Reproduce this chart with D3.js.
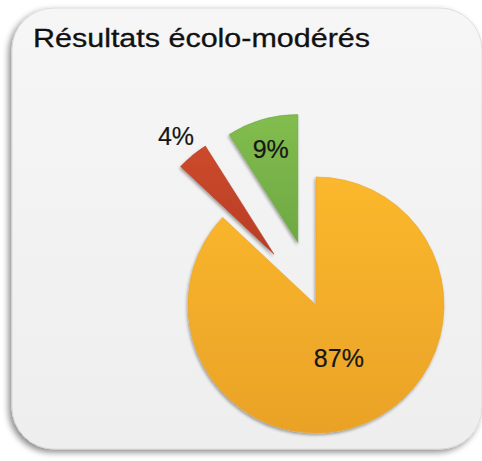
<!DOCTYPE html>
<meta charset="utf-8">
<script src="https://d3js.org/d3.v7.min.js"></script>
<style>
  body { margin: 0; background: #ffffff; }
</style>
<div id="my_dataviz"></div>
<script>

// data
var labels = ["87%", "4%", "9%"];
var values = [87, 4, 9];
var colorsTop = ["#fbb82d", "#cc4a2c", "#82bd4e"];
var colorsBottom = ["#eaa227", "#b83d25", "#6ea843"];
var explode = [0, 66, 65];          // px pulled out along bisector
var labelPos = [0.45, 1.2, 0.76];   // label distance as a fraction of the radius

var W = 482, H = 461;
var cx = 316, cy = 305, radius = 128;

var svg = d3.select("#my_dataviz")
  .append("svg")
    .attr("width", W)
    .attr("height", H);

var defs = svg.append("defs");

// card shadow
var f = defs.append("filter").attr("id", "cardShadow")
  .attr("x", "-10%").attr("y", "-10%").attr("width", "120%").attr("height", "120%");
f.append("feDropShadow").attr("dx", -3).attr("dy", 3).attr("stdDeviation", 3)
  .attr("flood-color", "#000").attr("flood-opacity", 0.45);

// slice shadow
var fs = defs.append("filter").attr("id", "sliceShadow")
  .attr("x", "-20%").attr("y", "-20%").attr("width", "140%").attr("height", "140%");
fs.append("feDropShadow").attr("dx", -1).attr("dy", 2).attr("stdDeviation", 1.5)
  .attr("flood-color", "#000").attr("flood-opacity", 0.35);

var cardGrad = defs.append("linearGradient").attr("id", "cardGrad")
  .attr("x1", 0).attr("y1", 0).attr("x2", 0).attr("y2", 1);
cardGrad.append("stop").attr("offset", "0%").attr("stop-color", "#f6f6f6");
cardGrad.append("stop").attr("offset", "100%").attr("stop-color", "#eeeeee");

values.forEach(function(v, i) {
  var g = defs.append("linearGradient").attr("id", "sg" + i)
    .attr("x1", 0).attr("y1", 0).attr("x2", 0).attr("y2", 1);
  g.append("stop").attr("offset", "0%").attr("stop-color", colorsTop[i]);
  g.append("stop").attr("offset", "100%").attr("stop-color", colorsBottom[i]);
});

// the card
svg.append("rect")
  .attr("x", 12).attr("y", 8)
  .attr("width", 470).attr("height", 441)
  .attr("rx", 42).attr("ry", 42)
  .attr("fill", "url(#cardGrad)")
  .attr("stroke", "#d8d8d8")
  .attr("stroke-width", 0.8)
  .attr("filter", "url(#cardShadow)");

// title
svg.append("text")
  .attr("x", 33)
  .attr("y", 47)
  .attr("textLength", 337)
  .attr("lengthAdjust", "spacingAndGlyphs")
  .style("font-family", "'Liberation Sans', Arial, sans-serif")
  .style("font-size", "25px")
  .style("fill", "#111")
  .style("stroke", "#111")
  .style("stroke-width", 0.3)
  .text("Résultats écolo-modérés");

var pie = d3.pie().sort(null).value(function(d) { return d; });
var arcs = pie(values);

var arc = d3.arc().innerRadius(0).outerRadius(radius);

function offset(d, dist) {
  var a = (d.startAngle + d.endAngle) / 2;
  return [Math.sin(a) * dist, -Math.cos(a) * dist];
}

var chart = svg.append("g")
  .attr("transform", "translate(" + cx + "," + cy + ")");

chart.selectAll("path")
  .data(arcs)
  .enter().append("path")
    .attr("d", arc)
    .attr("transform", function(d, i) {
      var o = offset(d, explode[i]);
      return "translate(" + o[0] + "," + o[1] + ")";
    })
    .attr("fill", function(d, i) { return "url(#sg" + i + ")"; })
    .attr("stroke", function(d, i) { return colorsBottom[i]; })
    .attr("stroke-width", 0.6)
    .attr("filter", "url(#sliceShadow)");

chart.selectAll("text.lbl")
  .data(arcs)
  .enter().append("text")
    .attr("class", "lbl")
    .attr("x", function(d, i) { return offset(d, explode[i])[0] + offset(d, labelPos[i] * radius)[0]; })
    .attr("y", function(d, i) { return offset(d, explode[i])[1] + offset(d, labelPos[i] * radius)[1]; })
    .attr("text-anchor", "middle")
    .attr("dominant-baseline", "central")
    .style("font-family", "'Liberation Sans', Arial, sans-serif")
    .style("font-size", "25px")
    .style("fill", "#161616")
    .style("stroke", "#161616")
    .style("stroke-width", 0.2)
    .text(function(d, i) { return labels[i]; });

</script>
